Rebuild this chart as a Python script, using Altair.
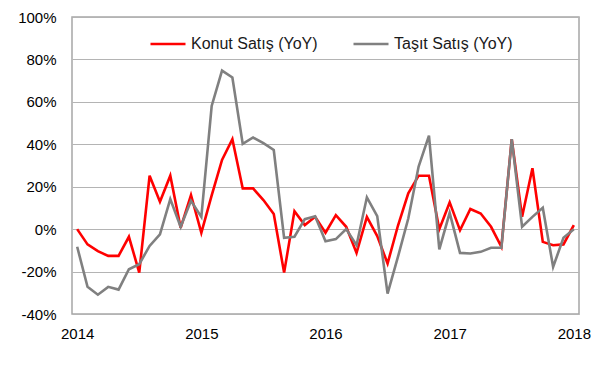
import altair as alt
import pandas as pd

months = pd.date_range("2014-01-01", "2018-01-01", freq="MS").strftime("%Y-%m").tolist()

konut = [0, -7.2, -10.4, -12.6, -12.6, -3.6, -20.5, 25.2, 12.9, 25.2, 0.6, 16.1,
         -1.7, 15.9, 32.6, 42.4, 19.2, 19.2, 13.7, 7.1, -20.5, 8.5, 1.9, 5.8,
         -1.7, 6.6, 1.1, -11.2, 5.8, -3.3, -16.2, 1.6, 16.9, 25.2, 25.2, 0,
         12.6, -0.5, 9.5, 7.4, 1.1, -8.3, 42.4, 5.8, 28.7, -6.0, -7.6, -7.2, 1.9]

tasit = [-8.3, -27.2, -30.9, -27.2, -28.5, -18.9, -16.5, -7.9, -2.5, 14.2, 1.1, 13.4,
         5.8, 58.1, 74.7, 71.5, 40.2, 43.2, 40.5, 37.3, -4.1, -3.6, 4.7, 6.1,
         -5.7, -4.7, 0.0, -7.6, 15.0, 6.1, -30.4, -13.1, 5.0, 29.5, 44.1, -9.5,
         7.7, -11.2, -11.5, -10.7, -8.8, -8.8, 42.4, 1.1, 5.8, 10.1, -17.8, -4.1, 0.0]

series_names = ["Konut Satış (YoY)", "Taşıt Satış (YoY)"]
series_colors = ["#ff0000", "#808080"]
year_ticks = [0, 12, 24, 36, 48]
y_ticks = [-40, -20, 0, 20, 40, 60, 80, 100]

rows = []
for name, vals in zip(series_names, [konut, tasit]):
    for i, (m, v) in enumerate(zip(months, vals)):
        rows.append({"idx": i, "month": m, "series": name, "value": v,
                     "ord": series_names.index(name)})
df = pd.DataFrame(rows)

FONT = "Liberation Sans"

chart = alt.Chart(df).mark_line(strokeWidth=2.6, strokeJoin="miter").encode(
    x=alt.X("idx:Q",
            scale=alt.Scale(domain=[-0.5, 48.5], nice=False, zero=False),
            axis=alt.Axis(values=year_ticks, labelExpr="2014 + datum.value / 12",
                          title=None, grid=False, ticks=False, domain=False,
                          labelPadding=12, labelFontSize=15, labelFont=FONT,
                          labelColor="#000000")),
    y=alt.Y("value:Q",
            scale=alt.Scale(domain=[-40, 100], nice=False),
            axis=alt.Axis(values=y_ticks, labelExpr="datum.value + '%'",
                          title=None, grid=True, gridColor="#b4b4b4", gridWidth=1.2,
                          ticks=False, domain=False, labelPadding=16,
                          labelFontSize=15, labelFont=FONT, labelColor="#000000")),
    color=alt.Color("series:N",
                    scale=alt.Scale(domain=series_names, range=series_colors),
                    legend=alt.Legend(title=None, orient="none", legendX=77, legendY=8,
                                      direction="horizontal", symbolType="stroke",
                                      symbolSize=1225, symbolStrokeWidth=2.6,
                                      labelFontSize=16, labelFont=FONT,
                                      labelColor="#1a1a1a", labelOffset=4,
                                      columnPadding=30, padding=0, labelLimit=300)),
    detail="series:N",
    order="ord:Q",
).properties(
    width=507,
    height=297,
    autosize=alt.AutoSizeParams(type="none"),
    padding={"left": 64, "top": 9, "right": 12, "bottom": 40},
).configure(
    background="white"
).configure_view(
    stroke="#a6a6a6", strokeWidth=1.5
)

chart.save("out.html", embed_options={"renderer": "svg", "actions": False})
